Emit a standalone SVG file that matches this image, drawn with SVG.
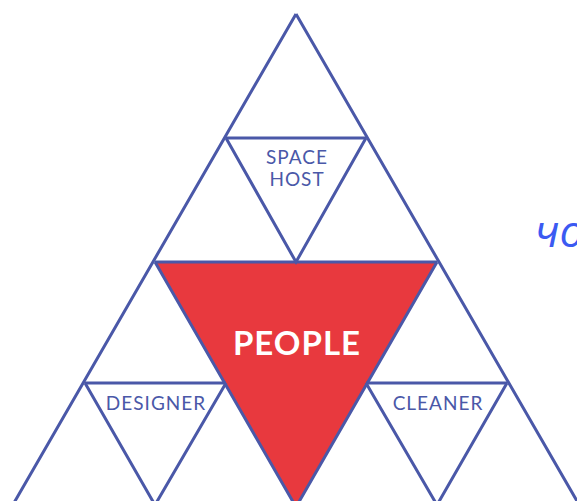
<svg xmlns="http://www.w3.org/2000/svg" width="577" height="501" viewBox="0 0 577 501">
<style>
.ln{fill:none;stroke:#4a58a8;stroke-width:3;stroke-linejoin:miter;stroke-linecap:butt}
.lbl{font-family:"Lato","Noto Sans",sans-serif;font-size:19px;fill:#4a58a8;text-anchor:middle;letter-spacing:1px}
</style>
<rect width="577" height="501" fill="#ffffff"/>
<g id="people">
<polygon points="155,262 437,262 296,508" fill="#e8393e"/>
<text x="297" y="355" font-family="Lato,'Noto Sans',sans-serif" font-size="33" font-weight="bold" fill="#ffffff" text-anchor="middle" letter-spacing="1">PEOPLE</text>
</g>
<g id="connectors">
<path class="ln" d="M296,14 L11,508 M296,14 L581,508"/>
<path class="ln" d="M226,138 L366,138 M155,262 L437,262 M85,383 L226,383 M366,383 L507,383"/>
<path class="ln" d="M226,138 L296,262 L366,138"/>
<path class="ln" d="M155,262 L296,507 L437,262"/>
<path class="ln" d="M85,383 L155,505 L226,383"/>
<path class="ln" d="M366,383 L437,505 L507,383"/>
</g>
<g id="spacehost">
<text class="lbl" x="297" y="164">SPACE</text>
<text class="lbl" x="297" y="186">HOST</text>
</g>
<g id="designer">
<text class="lbl" x="156" y="410">DESIGNER</text>
</g>
<g id="cleaner">
<text class="lbl" x="438" y="410">CLEANER</text>
</g>
<text x="535" y="247" font-family="'Open Sans','Noto Sans',sans-serif" font-style="italic" font-size="44" fill="#3b5af2">чо</text>
</svg>
